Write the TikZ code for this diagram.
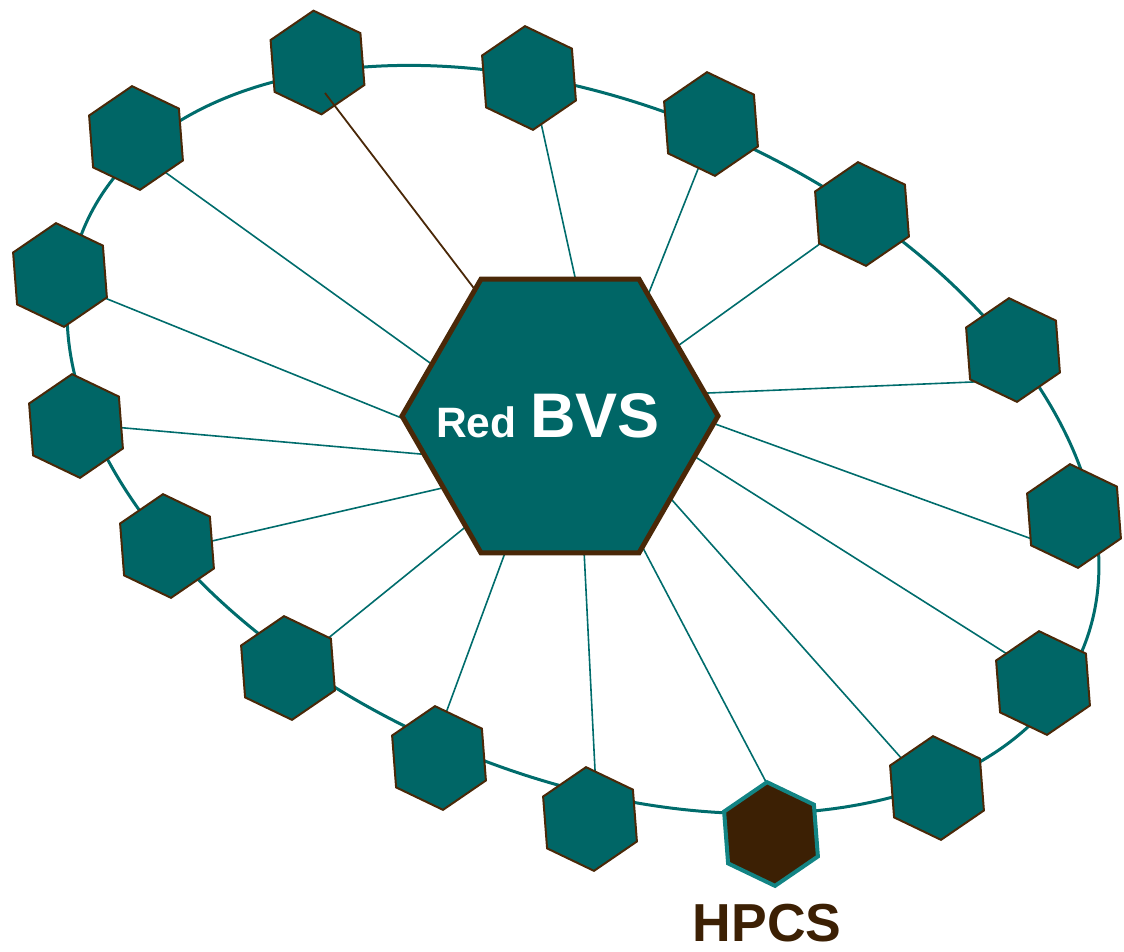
\documentclass[tikz,border=0pt]{standalone}
\usepackage{fontspec}
\setmainfont{Liberation Sans}
\usetikzlibrary{shapes.geometric,calc}
\definecolor{tealfill}{RGB}{0,102,102}
\definecolor{tealline}{RGB}{0,108,108}
\definecolor{hexbrown}{RGB}{74,40,8}
\definecolor{hpcsfill}{RGB}{60,32,4}
\definecolor{hpcsline}{RGB}{18,132,132}
\begin{document}
\begin{tikzpicture}[x=1pt,y=1pt,
  smallhex/.style={regular polygon, regular polygon sides=6, shape border rotate=34.4,
    minimum size=104pt, inner sep=0pt, outer sep=0pt, draw=hexbrown, line width=2pt, fill=tealfill},
  bighex/.style={regular polygon, regular polygon sides=6, minimum size=316pt,
    inner sep=0pt, outer sep=0pt, draw=hexbrown, line width=5pt, fill=tealfill},
  hpcshex/.style={smallhex, draw=hpcsline, fill=hpcsfill, line width=4pt},
  spoke/.style={draw=tealline, line width=1.6pt, shorten <=-3pt},
  brownspoke/.style={draw=hexbrown, line width=1.8pt},
  ring/.style={draw=tealline, line width=3pt},
  lbl/.style={inner sep=0pt, outer sep=0pt}]
\useasboundingbox (0,0) rectangle (1124,-951);
\coordinate (C) at (560,-416);
% ring
\draw[ring, rotate around={-23:(583,-439.5)}] (583,-439.5) ellipse [x radius=542, y radius=335];
% teal spokes
\foreach \i/\ox/\oy/\px/\py in {
  2/166.7/173.3/250/233.3,
  3/107.3/299/250/356.7,
  4/121.7/427.7/250/439,
  5/212/541/438/489,
  6/330/636.7/400/580,
  7/446.7/711/495/580,
  8/595/770/591/690,
  9/765/780/643/548,
  10/900/756.7/672/500,
  11/1005/652.7/697/458,
  12/1030/538.3/718/425,
  13/972/382/708/393,
  14/818.3/245/700/330,
  15/698.3/168.3/650/290,
  16/541.7/126/575/277}{
  \coordinate (o\i) at (\ox,-\oy);
  \coordinate (p\i) at (\px,-\py);
  \coordinate (q\i) at ($(o\i)!(C)!(p\i)$);
  \draw[spoke] (o\i) -- (q\i);
}
% small hexagons
\node[smallhex] (h1) at (317.5,-62.5) {};
\node[smallhex] (h2) at (136,-138) {};
\node[smallhex] (h3) at (60,-275) {};
\node[smallhex] (h4) at (76,-426) {};
\node[smallhex] (h5) at (167,-546) {};
\node[smallhex] (h6) at (288,-668) {};
\node[smallhex] (h7) at (439,-758) {};
\node[smallhex] (h8) at (590,-819) {};
\node[hpcshex] (h9) at (771,-834) {};
\node[smallhex] (h10) at (937,-788) {};
\node[smallhex] (h11) at (1043,-683) {};
\node[smallhex] (h12) at (1074,-516) {};
\node[smallhex] (h13) at (1013,-350) {};
\node[smallhex] (h14) at (862,-214) {};
\node[smallhex] (h15) at (711,-124) {};
\node[smallhex] (h16) at (529,-78) {};
% brown spoke on top of hexagon 1
\coordinate (o1) at (325,-93);
\coordinate (p1) at (351.7,-128);
\coordinate (q1) at ($(o1)!(C)!(p1)$);
\draw[brownspoke] (o1) -- (q1);
% central hexagon
\node[bighex] (center) at (C) {};
\node[lbl, anchor=base west, text=white, font=\fontsize{42.5}{42.5}\selectfont\bfseries] (red) at (436,-437) {Red};
\node[lbl, anchor=base west, text=white, font=\fontsize{63}{63}\selectfont\bfseries] (bvs) at (530,-437) {BVS};
\node[lbl, anchor=base, text=hpcsfill, font=\fontsize{53.5}{53.5}\selectfont\bfseries] (hpcs) at (767,-941.7) {HPCS};
\end{tikzpicture}
\end{document}
